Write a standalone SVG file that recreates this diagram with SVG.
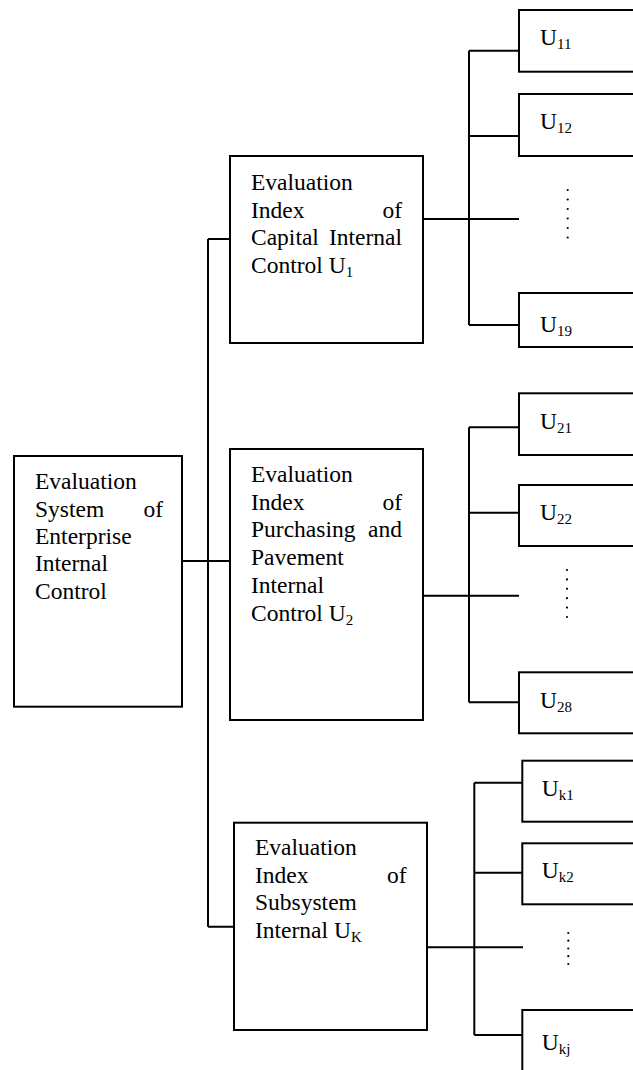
<svg xmlns="http://www.w3.org/2000/svg" width="633" height="1070" viewBox="0 0 633 1070">
<style>
.box{fill:#fff;stroke:#000;stroke-width:2}
.ln{fill:none;stroke:#000;stroke-width:2}
text{font-family:"Liberation Serif","Times New Roman",serif;font-size:23.5px;fill:#000}
.e{text-anchor:end}
.sub{font-size:15px}
.dot{fill:#000}
</style>
<rect width="633" height="1070" fill="#fff"/>
<g id="connectors">
<path class="ln" d="M208,239 V926.7 M208,239 H230 M182,561 H230 M208,926.7 H234"/>
<path class="ln" d="M423,219 H519 M469,50.7 V325 M469,50.7 H519 M469,136 H519 M469,325 H519"/>
<path class="ln" d="M423,595.7 H519 M469,427.3 V702.3 M469,427.3 H519 M469,512.7 H519 M469,702.3 H519"/>
<path class="ln" d="M427,947.3 H523 M474.3,782.7 V1035 M474.3,782.7 H522.3 M474.3,872.7 H522.3 M474.3,1035 H522.3"/>
</g>
<g id="root">
<rect class="box" x="14" y="456" width="168" height="250.7"/>
<text x="35" y="489">Evaluation</text>
<text x="35" y="516.5">System</text><text class="e" x="163" y="516.5">of</text>
<text x="35" y="543.5">Enterprise</text>
<text x="35" y="571">Internal</text>
<text x="35" y="598.5">Control</text>
</g>
<g id="u1">
<rect class="box" x="230" y="156" width="193" height="187"/>
<text x="251" y="190">Evaluation</text>
<text x="251" y="217.5">Index</text><text class="e" x="402" y="217.5">of</text>
<text x="251" y="245">Capital</text><text class="e" x="402" y="245">Internal</text>
<text x="251" y="272.5">Control U<tspan class="sub" dy="4">1</tspan></text>
</g>
<g id="u2">
<rect class="box" x="230" y="449" width="193" height="271"/>
<text x="251" y="481.7">Evaluation</text>
<text x="251" y="510">Index</text><text class="e" x="402" y="510">of</text>
<text x="251" y="537.3">Purchasing</text><text class="e" x="402" y="537.3">and</text>
<text x="251" y="565">Pavement</text>
<text x="251" y="592.7">Internal</text>
<text x="251" y="620.7">Control U<tspan class="sub" dy="4">2</tspan></text>
</g>
<g id="uk">
<rect class="box" x="234" y="822.7" width="193" height="207.3"/>
<text x="255" y="855">Evaluation</text>
<text x="255" y="882.7">Index</text><text class="e" x="406.7" y="882.7">of</text>
<text x="255" y="910">Subsystem</text>
<text x="255" y="938.3">Internal U<tspan class="sub" dy="4">K</tspan></text>
</g>
<g id="u11"><rect class="box" x="519" y="10" width="130" height="61.7"/><text x="540" y="45">U<tspan class="sub" dy="4">11</tspan></text></g>
<g id="u12"><rect class="box" x="519" y="94" width="130" height="62"/><text x="540" y="129.3">U<tspan class="sub" dy="4">12</tspan></text></g>
<g id="dots1"><circle class="dot" cx="567.7" cy="190" r="1.1"/><circle class="dot" cx="567.7" cy="199.5" r="1.1"/><circle class="dot" cx="567.7" cy="209" r="1.1"/><circle class="dot" cx="567.7" cy="218.5" r="1.1"/><circle class="dot" cx="567.7" cy="228" r="1.1"/><circle class="dot" cx="567.7" cy="237.5" r="1.1"/></g>
<g id="u19"><rect class="box" x="519" y="293" width="130" height="54"/><text x="540" y="331.7">U<tspan class="sub" dy="4">19</tspan></text></g>
<g id="u21"><rect class="box" x="519" y="393.3" width="130" height="61.7"/><text x="540" y="429.3">U<tspan class="sub" dy="4">21</tspan></text></g>
<g id="u22"><rect class="box" x="519" y="485" width="130" height="61"/><text x="540" y="520">U<tspan class="sub" dy="4">22</tspan></text></g>
<g id="dots2"><circle class="dot" cx="567" cy="570" r="1.1"/><circle class="dot" cx="567" cy="579.4" r="1.1"/><circle class="dot" cx="567" cy="588.8" r="1.1"/><circle class="dot" cx="567" cy="598.2" r="1.1"/><circle class="dot" cx="567" cy="607.6" r="1.1"/><circle class="dot" cx="567" cy="617" r="1.1"/></g>
<g id="u28"><rect class="box" x="519" y="672.3" width="130" height="61"/><text x="540" y="708.3">U<tspan class="sub" dy="4">28</tspan></text></g>
<g id="uk1"><rect class="box" x="522.3" y="760.7" width="130" height="61"/><text x="541.7" y="796">U<tspan class="sub" dy="4">k1</tspan></text></g>
<g id="uk2"><rect class="box" x="522.3" y="843.3" width="130" height="61"/><text x="541.7" y="878.3">U<tspan class="sub" dy="4">k2</tspan></text></g>
<g id="dots3"><circle class="dot" cx="568.3" cy="933" r="1.1"/><circle class="dot" cx="568.3" cy="940.7" r="1.1"/><circle class="dot" cx="568.3" cy="948.5" r="1.1"/><circle class="dot" cx="568.3" cy="956.2" r="1.1"/><circle class="dot" cx="568.3" cy="964" r="1.1"/></g>
<g id="ukj"><rect class="box" x="522.3" y="1010" width="130" height="70"/><text x="541.7" y="1050">U<tspan class="sub" dy="4">kj</tspan></text></g>
</svg>
